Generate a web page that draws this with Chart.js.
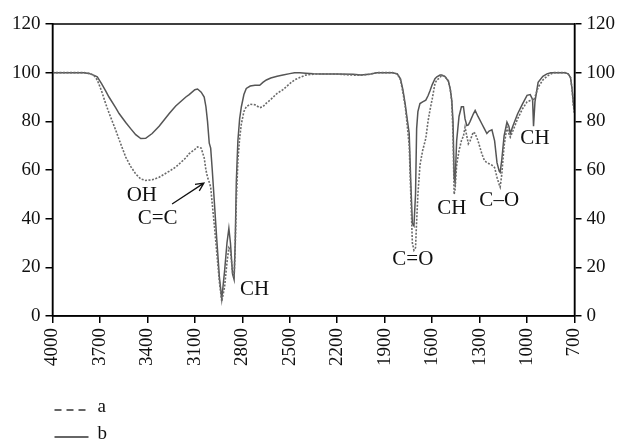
<!DOCTYPE html>
<html>
<head>
<meta charset="utf-8">
<script src="https://cdn.jsdelivr.net/npm/chart.js@4.4.1/dist/chart.umd.min.js"></script>
<style>
  html, body { margin: 0; padding: 0; background: #fff; }
  #wrap { width: 620px; height: 444px; }
</style>
</head>
<body>
<div id="wrap"><canvas id="irChart" width="620" height="444"></canvas></div>
<script>
// wavenumbers (cm-1), shared by both spectra
const wavenumbers = [
  4000, 3900, 3800, 3770, 3740, 3717, 3690, 3664, 3643, 3600, 3579, 3537, 3506, 3474, 3442,
  3411, 3370, 3326, 3262, 3221, 3157, 3136, 3100, 3083, 3060, 3041, 3030, 3020, 3009, 3000,
  2990, 2975, 2960, 2945, 2930, 2912, 2897, 2885, 2875, 2862, 2852, 2845, 2838, 2828, 2817,
  2806, 2790, 2775, 2750, 2720, 2690, 2670, 2648, 2620, 2580, 2543, 2500, 2470, 2437, 2400,
  2350, 2300, 2200, 2100, 2050, 2000, 1950, 1900, 1850, 1820, 1800, 1785, 1770, 1760, 1745,
  1735, 1725, 1715, 1705, 1698, 1690, 1677, 1660, 1640, 1626, 1614, 1600, 1582, 1570, 1550,
  1540, 1520, 1497, 1485, 1476, 1468, 1461, 1455, 1445, 1430, 1415, 1402, 1392, 1381, 1371,
  1360, 1340, 1328, 1310, 1286, 1270, 1254, 1240, 1222, 1205, 1190, 1176, 1170, 1160, 1145,
  1127, 1115, 1106, 1090, 1060, 1030, 1000, 980, 965, 959, 950, 930, 900, 874, 850,
  830, 800, 760, 740, 725, 715, 708, 700
];

// spectrum a (dashed)
const seriesA = [
  100, 100, 100, 99.7, 99, 97, 92.5, 87.3, 83.5, 76.3, 72.5, 65.3, 61.5, 58.4, 56.3,
  55.7, 56, 57, 59.5, 61.2, 65, 66.7, 68.5, 69.5, 69, 65, 60, 57, 55, 53,
  46, 36, 25, 14, 6, 12, 22, 28, 27, 18, 16, 28, 47, 64, 73,
  79, 84, 86, 87, 86.8, 85.6, 86, 87.5, 89, 91.5, 93, 95.5, 97, 98, 99,
  99.4, 99.5, 99.4, 99, 99, 99.3, 100, 100, 100, 99.5, 97, 92, 86, 80, 70,
  50, 30, 27, 28, 39, 50, 62, 68, 73, 80, 84.5, 89, 95.6, 97, 98,
  99, 98.5, 96.5, 93, 88, 75, 50, 52, 62, 68, 72, 74, 77.6, 74, 70.8,
  72, 75.6, 75, 72, 66.7, 64, 63, 62.6, 62, 61, 57, 54, 53, 58, 70,
  77.6, 75, 73.5, 76, 81, 85, 88, 88.6, 89, 88.5, 90, 94, 97, 98.5, 99.5,
  100, 100, 100, 99.5, 98, 93, 87, 83
];

// spectrum b (solid)
const seriesB = [
  100, 100, 100, 99.7, 99, 98.3, 95.5, 92.5, 90, 85.5, 83.2, 79.5, 77, 74.5, 72.9,
  73, 75, 78, 83.2, 86.3, 90, 91, 93, 93.3, 92, 90, 86, 80, 71, 69,
  60, 45, 30, 16, 7, 18.6, 30, 36, 30, 17.3, 15, 30, 55, 72, 81,
  86, 91, 93.5, 94.5, 94.8, 94.8, 96, 97, 97.8, 98.5, 99, 99.6, 100, 100, 99.8,
  99.6, 99.5, 99.5, 99.3, 99, 99.3, 100, 100, 100, 99.5, 97.5, 93, 87, 82, 75,
  55, 38, 37, 50, 77, 84, 87.3, 88, 88.7, 90.5, 92.5, 95, 97.5, 98.3, 99,
  99, 98.5, 96.5, 93, 88.7, 80, 57, 55, 72, 82, 86, 86, 81, 78.3, 78.5,
  80, 83, 84.5, 82, 79, 77, 75, 76, 76.5, 72, 63, 59.5, 59, 64, 74,
  79.7, 78, 75, 78, 83, 87, 90.7, 91, 89, 78, 88, 96, 98.5, 99.5, 100,
  100, 100, 100, 99.5, 98, 93, 88, 84
];

const xTicks = [4000, 3700, 3400, 3100, 2800, 2500, 2200, 1900, 1600, 1300, 1000, 700];
const yTicks = [0, 20, 40, 60, 80, 100, 120];

// band labels, placed in data units (wavenumber, %)
const bandNotes = [
  { text: 'OH', x: 3435, y: 49.5 },
  { text: 'C=C', x: 3335, y: 40 },
  { text: 'CH', x: 2722, y: 11 },
  { text: 'C=O', x: 1722, y: 23.4 },
  { text: 'CH', x: 1476, y: 44 },
  { text: 'C\u2013O', x: 1176, y: 47.4 },
  { text: 'CH', x: 950, y: 72.9 }
];
// arrow from the C=C label to the curve
const arrowFrom = { x: 3244, y: 46 };
const arrowTo = { x: 3043, y: 54.6 };

const serif = '"Liberation Serif", "DejaVu Serif", serif';

const toPoints = (ys) => wavenumbers.map((w, i) => ({ x: w, y: ys[i] }));

const frameAndNotes = {
  id: 'frameAndNotes',
  afterDraw(chart) {
    const ctx = chart.ctx;
    const a = chart.chartArea;
    const sx = chart.scales.x, sy = chart.scales.y;
    ctx.save();
    // box around plot
    ctx.strokeStyle = '#000';
    ctx.lineWidth = 1.5;
    ctx.strokeRect(a.left, a.top, a.right - a.left, a.bottom - a.top);

    // band labels
    ctx.fillStyle = '#111';
    ctx.font = '21px ' + serif;
    ctx.textAlign = 'center';
    ctx.textBaseline = 'middle';
    bandNotes.forEach(n => {
      ctx.fillText(n.text, sx.getPixelForValue(n.x), sy.getPixelForValue(n.y));
    });

    // arrow
    const x1 = sx.getPixelForValue(arrowFrom.x), y1 = sy.getPixelForValue(arrowFrom.y);
    const x2 = sx.getPixelForValue(arrowTo.x), y2 = sy.getPixelForValue(arrowTo.y);
    const ang = Math.atan2(y2 - y1, x2 - x1);
    ctx.strokeStyle = '#111';
    ctx.lineWidth = 1.3;
    ctx.beginPath();
    ctx.moveTo(x1, y1);
    ctx.lineTo(x2, y2);
    ctx.moveTo(x2 - 9 * Math.cos(ang - 0.45), y2 - 9 * Math.sin(ang - 0.45));
    ctx.lineTo(x2, y2);
    ctx.lineTo(x2 - 9 * Math.cos(ang + 0.45), y2 - 9 * Math.sin(ang + 0.45));
    ctx.stroke();

    // legend, stacked below the axis
    const lx = a.left + 2;
    ctx.textAlign = 'left';
    ctx.font = '19px ' + serif;
    chart.data.datasets.forEach((ds, i) => {
      const ly = chart.height - 34 + i * 27;
      ctx.strokeStyle = '#333';
      ctx.lineWidth = 1.4;
      ctx.setLineDash(i === 0 ? [7, 5] : []);
      ctx.beginPath();
      ctx.moveTo(lx, ly);
      ctx.lineTo(lx + 34, ly);
      ctx.stroke();
      ctx.setLineDash([]);
      ctx.fillStyle = '#111';
      ctx.fillText(ds.label, lx + 43, ly - 3);
    });
    ctx.restore();
  }
};

const axisY = (pos) => ({
  type: 'linear',
  position: pos,
  min: 0,
  max: 120,
  afterBuildTicks: axis => { axis.ticks = yTicks.map(v => ({ value: v })); },
  grid: { drawOnChartArea: false, drawTicks: true, tickLength: 7, color: '#000', lineWidth: 1.5 },
  border: { color: '#000', width: 1.5 },
  ticks: { color: '#111', padding: 5, font: { family: serif, size: 19 } }
});

const config = {
  type: 'line',
  data: {
    datasets: [
      {
        label: 'a',
        data: toPoints(seriesA),
        borderColor: '#6a6a6a',
        borderWidth: 1.6,
        borderDash: [2, 1.5],
        pointRadius: 0,
        tension: 0,
        yAxisID: 'y'
      },
      {
        label: 'b',
        data: toPoints(seriesB),
        borderColor: '#555',
        borderWidth: 1.5,
        pointRadius: 0,
        tension: 0,
        yAxisID: 'y'
      }
    ]
  },
  options: {
    responsive: false,
    animation: false,
    layout: { padding: { left: 7, right: 0, top: 24, bottom: 73 } },
    plugins: {
      legend: { display: false },
      tooltip: { enabled: false },
      title: { display: false }
    },
    scales: {
      x: {
        type: 'linear',
        reverse: true,
        min: 700,
        max: 4000,
        afterBuildTicks: axis => { axis.ticks = xTicks.map(v => ({ value: v })); },
        grid: { drawOnChartArea: false, drawTicks: true, tickLength: 7, color: '#000', lineWidth: 1.5 },
        border: { color: '#000', width: 1.5 },
        ticks: {
          color: '#111',
          padding: 5,
          maxRotation: 90,
          minRotation: 90,
          autoSkip: false,
          font: { family: serif, size: 19 },
          callback: v => String(v)
        }
      },
      y: axisY('left'),
      y2: axisY('right')
    }
  },
  plugins: [frameAndNotes]
};

const chart = new Chart(document.getElementById('irChart'), config);
</script>
</body>
</html>
